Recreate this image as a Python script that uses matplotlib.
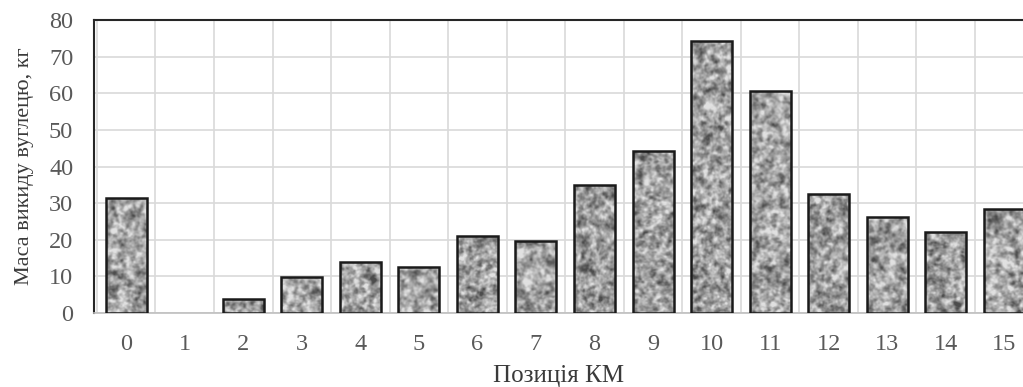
import numpy as np
import matplotlib
matplotlib.use("Agg")
import matplotlib.pyplot as plt
from matplotlib.ticker import MultipleLocator

positions = list(range(16))
mass_kg = [31.3, 0.0, 3.8, 9.8, 13.9, 12.6, 21.0, 19.7, 35.0, 44.2,
           74.4, 60.5, 32.5, 26.3, 22.1, 28.3]
y_ticks = [0, 10, 20, 30, 40, 50, 60, 70, 80]

plt.rcParams["font.family"] = ["Liberation Serif", "DejaVu Serif"]

fig = plt.figure(figsize=(10.23, 3.87), dpi=100)
ax = fig.add_axes([0.0919, 0.1912, 0.9081, 0.7571])

bars = ax.bar(positions, mass_kg, width=0.7, facecolor="none",
              edgecolor="#1a1a1a", linewidth=1.8, zorder=4)
for b in bars:
    if b.get_height() <= 0:
        b.set_linewidth(0)


def blurred_noise(shape, sigma, rng):
    """Gaussian-smoothed white noise, computed in the frequency domain."""
    n = rng.standard_normal(shape)
    fy = np.fft.fftfreq(shape[0])[:, None]
    fx = np.fft.fftfreq(shape[1])[None, :]
    g = np.exp(-2 * (np.pi * sigma) ** 2 * (fx ** 2 + fy ** 2))
    out = np.real(np.fft.ifft2(np.fft.fft2(n) * g))
    return (out - out.mean()) / out.std()


# granite-like grey texture for the bar fills
rng = np.random.default_rng(11)
shape = (293, 929)
tex = (0.5 * blurred_noise(shape, 0.9, rng)
       + 0.9 * blurred_noise(shape, 1.8, rng)
       + 0.35 * blurred_noise(shape, 4.0, rng))
tex = tex / tex.std()
tex = 0.63 + 0.12 * tex
tex = np.clip(tex, 0.3, 0.88)

for b in bars:
    if b.get_height() <= 0:
        continue
    im = ax.imshow(tex, cmap="gray", vmin=0, vmax=1,
                   extent=(-0.55, 15.32, 0, 80), aspect="auto",
                   interpolation="bilinear", zorder=3)
    im.set_clip_path(b)

ax.set_xlim(-0.55, 15.32)
ax.set_ylim(0, 80)
ax.set_xticks(positions)
ax.set_yticks(y_ticks)
ax.xaxis.set_minor_locator(MultipleLocator(1, offset=0.5))
ax.grid(True, which="minor", axis="x", color="#d9d9d9", linewidth=1.2, zorder=0)
ax.grid(True, which="major", axis="y", color="#d9d9d9", linewidth=1.2, zorder=0)
ax.set_axisbelow(True)

for side in ("left", "top"):
    ax.spines[side].set_color("#262626")
    ax.spines[side].set_linewidth(1.5)
ax.spines["right"].set_visible(False)
ax.spines["bottom"].set_color("#bfbfbf")
ax.spines["bottom"].set_linewidth(1.2)

ax.tick_params(axis="both", which="both", length=0, labelsize=17.5,
               labelcolor="#595959")
ax.tick_params(axis="y", pad=15)
ax.tick_params(axis="x", pad=15)

ax.set_ylabel("Маса викиду вуглецю, кг", fontsize=16, color="#3a3a3a",
              labelpad=11)
ax.set_xlabel("Позиція КМ", fontsize=18, color="#3a3a3a", labelpad=7)

fig.savefig("out.png", dpi=100)
